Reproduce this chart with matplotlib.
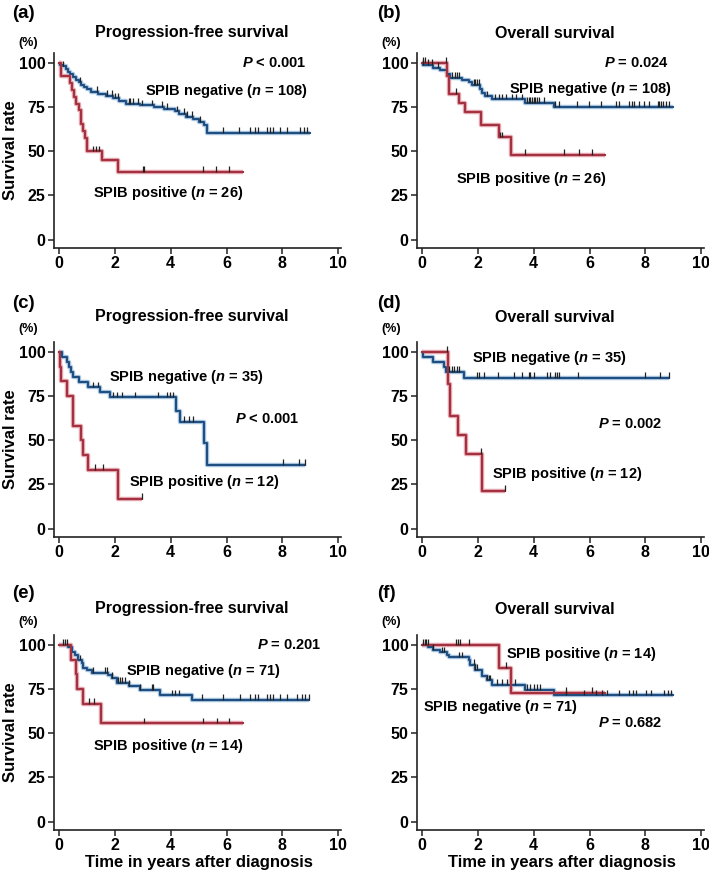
import matplotlib
matplotlib.use('Agg')
import matplotlib.pyplot as plt
import numpy as np

plt.rcParams['font.family'] = 'Liberation Sans'
plt.rcParams['font.weight'] = 'bold'
plt.rcParams['mathtext.fontset'] = 'custom'
plt.rcParams['mathtext.it'] = 'Liberation Sans:italic:bold'
plt.rcParams['mathtext.rm'] = 'Liberation Sans:bold'

# ---- data (time in years, survival in %) ----
# (a) PFS, all patients
a_neg_t = [0, 0.05, 0.15, 0.25, 0.33, 0.4, 0.5, 0.6, 0.7, 0.8, 0.9, 1.0, 1.15, 1.4, 1.7,
           1.95, 2.15, 2.4, 2.9, 3.4, 3.75, 4.15, 4.3, 4.55, 4.8, 5.0, 5.2, 5.3]
a_neg_s = [100, 99, 98, 96.5, 95, 93.5, 92, 90.5, 89, 87.5, 86.5, 85, 83.5, 82.5, 81.5,
           80, 78.5, 77, 76, 75, 74, 72.5, 71, 69.5, 68, 66.5, 65, 60.5]
a_neg_end = 9.0
a_neg_cens = [0.16, 0.75, 1.35, 1.71, 1.89, 2.01, 2.13, 2.49, 2.54, 2.66, 2.84, 2.96, 3.32,
              3.68, 3.86, 4.22, 4.46, 4.58, 4.76, 5.05, 5.87, 6.46, 6.85, 7.02, 7.14, 7.44,
              7.56, 7.66, 7.92, 8.16, 8.64, 8.76, 8.88]
a_pos_t = [0, 0.08, 0.4, 0.48, 0.55, 0.62, 0.7, 0.78, 0.85, 0.92, 1.0, 1.55, 2.12]
a_pos_s = [100, 92.3, 88.5, 84.6, 80.8, 76.9, 73.1, 65.4, 61.5, 57.7, 50.0, 44.9, 38.2]
a_pos_end = 6.6
a_pos_cens = [1.21, 1.33, 1.43, 3.0, 3.06, 5.15, 5.63, 6.1]

# (b) OS, all patients
b_neg_t = [0, 0.05, 0.41, 0.65, 0.89, 1.0, 1.43, 1.67, 1.79, 2.09, 2.15, 2.27, 2.51, 3.7, 4.73]
b_neg_s = [100, 99, 97.3, 96, 93.5, 91.5, 90.5, 89, 87.5, 85.5, 83, 81, 79.3, 77.5, 75.3]
b_neg_end = 9.0
b_neg_cens = [0.05, 0.23, 0.35, 0.59, 1.07, 1.19, 1.25, 1.31, 1.85, 1.91, 1.97, 2.03, 2.33,
              2.63, 2.75, 2.87, 2.99, 3.22, 3.35, 3.58, 3.77, 3.82, 3.88, 3.94, 4.0, 4.06,
              4.12, 4.18, 4.36, 4.78, 4.9, 5.56, 5.98, 6.4, 6.94, 7.06, 7.42, 7.52, 7.6,
              7.78, 7.96, 8.14, 8.44, 8.5, 8.56, 8.62, 8.74, 8.86]
b_pos_t = [0, 0.89, 0.95, 1.31, 1.55, 2.11, 2.75, 3.19]
b_pos_s = [100, 92.3, 82.5, 77.5, 72, 64.8, 57.8, 48.1]
b_pos_end = 6.56
b_pos_cens = [0.05, 0.1, 0.85, 1.2, 2.8, 2.88, 3.7, 5.1, 5.62, 6.1]

# (c) PFS, subgroup
c_neg_t = [0, 0.1, 0.27, 0.35, 0.42, 0.5, 0.72, 1.05, 1.47, 1.83, 4.18, 4.35, 5.2, 5.3]
c_neg_s = [100, 97.1, 94.3, 91.4, 88.6, 85.7, 82.9, 80.0, 77.1, 74.3, 66.4, 60.3, 48.2, 36.2]
c_neg_end = 8.82
c_neg_cens = [1.23, 1.41, 1.95, 2.07, 2.25, 2.72, 3.56, 3.86, 3.98, 4.1, 4.46, 4.64, 4.81,
              8.04, 8.58, 8.82]
c_pos_t = [0, 0.04, 0.07, 0.28, 0.5, 0.8, 0.86, 1.02, 2.13]
c_pos_s = [100, 91.7, 83.3, 75.0, 58.3, 50.0, 41.7, 33.3, 16.7]
c_pos_end = 2.97
c_pos_cens = [1.3, 1.58, 2.97]

# (d) OS, subgroup
d_neg_t = [0, 0.02, 0.41, 0.8, 0.86, 1.49]
d_neg_s = [100, 97.1, 94.3, 91.4, 88.6, 85.2]
d_neg_end = 8.84
d_neg_cens = [0.95, 1.07, 1.16, 1.25, 1.34, 1.97, 2.03, 2.21, 2.72, 3.28, 3.58, 3.82, 3.88,
              4.0, 4.48, 4.6, 4.78, 4.84, 4.9, 5.59, 8.0, 8.54, 8.84]
d_pos_t = [0, 0.93, 1.0, 1.28, 1.57, 2.15]
d_pos_s = [100, 81.8, 63.6, 53.0, 42.4, 21.2]
d_pos_end = 2.96
d_pos_cens = [0.88, 2.1, 2.96]

# (e) PFS, other subgroup
e_neg_t = [0, 0.33, 0.45, 0.57, 0.69, 0.81, 0.87, 0.99, 1.17, 1.77, 1.89, 2.07, 2.49, 2.9,
           3.62, 4.76]
e_neg_s = [100, 98.6, 95.7, 94.2, 91.3, 89.9, 87.0, 85.7, 84.2, 82.8, 81.3, 78.6, 76.7, 74.6,
           71.4, 68.8]
e_neg_end = 8.97
e_neg_cens = [0.16, 0.22, 0.27, 0.75, 1.23, 1.65, 1.71, 1.89, 2.13, 2.19, 2.25, 2.37, 2.49,
              2.9, 3.32, 3.38, 4.04, 4.16, 4.28, 5.11, 5.89, 6.49, 6.85, 7.02, 7.14, 7.44,
              7.56, 7.68, 7.92, 8.16, 8.52, 8.7, 8.82, 8.94]
e_pos_t = [0, 0.42, 0.62, 0.66, 0.85, 1.5]
e_pos_s = [100, 91.7, 83.3, 75.0, 66.7, 55.6]
e_pos_end = 6.6
e_pos_cens = [1.09, 1.27, 3.05, 5.15, 5.65, 6.1]

# (f) OS, other subgroup
f_neg_t = [0, 0.23, 0.41, 0.65, 0.89, 0.95, 1.67, 1.73, 1.91, 2.15, 2.33, 2.51, 3.7, 4.72]
f_neg_s = [100, 98.6, 97.2, 95.8, 94.3, 92.9, 91.4, 88.6, 85.8, 82.6, 80.0, 77.3, 74.4, 71.5]
f_neg_end = 9.0
f_neg_cens = [0.41, 0.71, 0.77, 1.31, 1.43, 1.85, 1.91, 1.97, 2.33, 2.39, 2.45, 2.69, 2.87,
              3.05, 3.34, 3.77, 3.88, 4.0, 4.12, 4.24, 5.14, 5.8, 6.22, 6.46, 6.64, 7.06,
              7.42, 7.54, 7.66, 8.02, 8.2, 8.68, 8.8, 8.92]
f_pos_t = [0, 2.75, 3.2]
f_pos_s = [100, 87.0, 72.9]
f_pos_end = 6.55
f_pos_cens = [0.05, 0.1, 0.15, 0.2, 1.2, 1.3, 1.37, 1.68, 3.0, 5.15, 6.08]

panel_labels = ['(a)', '(b)', '(c)', '(d)', '(e)', '(f)']
titles = ['Progression-free survival', 'Overall survival'] * 3
p_texts = [r'$\mathit{P}$ < 0.001', r'$\mathit{P}$ = 0.024', r'$\mathit{P}$ < 0.001',
           r'$\mathit{P}$ = 0.002', r'$\mathit{P}$ = 0.201', r'$\mathit{P}$ = 0.682']
n_neg = [108, 108, 35, 35, 71, 71]
n_pos = [26, 26, 12, 12, 14, 14]

curves = [
    (a_neg_t, a_neg_s, a_neg_end, a_neg_cens, a_pos_t, a_pos_s, a_pos_end, a_pos_cens),
    (b_neg_t, b_neg_s, b_neg_end, b_neg_cens, b_pos_t, b_pos_s, b_pos_end, b_pos_cens),
    (c_neg_t, c_neg_s, c_neg_end, c_neg_cens, c_pos_t, c_pos_s, c_pos_end, c_pos_cens),
    (d_neg_t, d_neg_s, d_neg_end, d_neg_cens, d_pos_t, d_pos_s, d_pos_end, d_pos_cens),
    (e_neg_t, e_neg_s, e_neg_end, e_neg_cens, e_pos_t, e_pos_s, e_pos_end, e_pos_cens),
    (f_neg_t, f_neg_s, f_neg_end, f_neg_cens, f_pos_t, f_pos_s, f_pos_end, f_pos_cens),
]

# text placement per panel: (x, y, ha) in data units
p_pos = [(8.85, 100, 'right'), (8.85, 100, 'right'), (8.6, 62, 'right'),
         (8.6, 59, 'right'), (9.4, 100, 'right'), (8.6, 56, 'right')]
neg_pos = [(8.9, 84, 'right'), (8.95, 85, 'right'), (4.55, 86, 'center'),
           (4.55, 96.5, 'center'), (5.15, 85.5, 'center'), (2.8, 65, 'center')]
pos_pos = [(3.9, 26.5, 'center'), (3.9, 34.5, 'center'), (5.2, 26.2, 'center'),
           (5.2, 31, 'center'), (3.9, 42.6, 'center'), (5.7, 94.7, 'center')]

BLUE = '#1f4f80'
BLUE_HALO = '#a9c6e2'
RED = '#a3313f'
RED_HALO = '#e6a9b1'

W, H = 709, 874
col_left = [54, 417]
row_top = [53, 342, 635]
aw, ah = 287, 195

fig = plt.figure(figsize=(W / 100, H / 100), dpi=100)


def km(ax, t, s, end, cens, col, halo):
    tt = list(t) + [end]
    ss = list(s) + [s[-1]]
    ax.step(tt, ss, where='post', color=halo, lw=3.2, solid_capstyle='butt', zorder=2)
    ax.step(tt, ss, where='post', color=col, lw=1.5, zorder=3)
    idx = np.searchsorted(t, cens, side='right') - 1
    cs = np.array(s)[idx]
    ax.vlines(cens, cs, cs + 3.2, color='#222222', lw=0.9, zorder=4)


for i in range(6):
    r, c = divmod(i, 2)
    l, top = col_left[c], row_top[r]
    ax = fig.add_axes([l / W, 1 - (top + ah) / H, aw / W, ah / H])
    nt, ns, nend, ncens, pt, ps, pend, pcens = curves[i]
    km(ax, nt, ns, nend, ncens, BLUE, BLUE_HALO)
    km(ax, pt, ps, pend, pcens, RED, RED_HALO)

    ax.set_xlim(-0.18, 10.1)
    ax.set_ylim(-4.8, 105.6)
    ax.set_xticks([0, 2, 4, 6, 8, 10])
    ax.set_yticks([0, 25, 50, 75, 100])
    ax.tick_params(direction='out', length=4, width=1.1, labelsize=11.5, pad=2,
                   color='#222222')
    for lab in ax.get_xticklabels() + ax.get_yticklabels():
        lab.set_fontweight('bold')
    ax.spines['top'].set_visible(False)
    ax.spines['right'].set_visible(False)
    for sp in ['left', 'bottom']:
        ax.spines[sp].set_linewidth(1.2)
        ax.spines[sp].set_color('#222222')

    x, y, ha = p_pos[i]
    ax.text(x, y, p_texts[i], ha=ha, va='center', fontsize=10.5, fontweight='bold')
    x, y, ha = neg_pos[i]
    ax.text(x, y, 'SPIB negative ($\\mathit{n}$ = %d)' % n_neg[i], ha=ha, va='center',
            fontsize=10.5, fontweight='bold')
    x, y, ha = pos_pos[i]
    ax.text(x, y, 'SPIB positive ($\\mathit{n}$ = %d)' % n_pos[i], ha=ha, va='center',
            fontsize=10.5, fontweight='bold')

# figure-level labels (pixel positions from the reference)
lab_x = [12, 377]
lab_y = [14, 304, 594]
title_y = [33, 317, 609]
pct_y = [43, 329, 622]
pct_x = [28, 391]
for i in range(6):
    r, c = divmod(i, 2)
    fig.text(lab_x[c] / W, 1 - lab_y[r] / H, panel_labels[i], ha='left', va='center',
             fontsize=13.5, fontweight='bold')
    fig.text((col_left[c] + aw / 2 - 6) / W, 1 - title_y[r] / H, titles[i], ha='center',
             va='center', fontsize=11.5, fontweight='bold')
    fig.text(pct_x[c] / W, 1 - pct_y[r] / H, '(%)', ha='center', va='center',
             fontsize=9, fontweight='bold')
    if c == 0:
        fig.text(11 / W, 1 - (row_top[r] + ah / 2) / H, 'Survival rate', rotation=90,
                 ha='center', va='center', fontsize=12, fontweight='bold')
    if r == 2:
        fig.text((col_left[c] + 145) / W, 1 - 863 / H, 'Time in years after diagnosis',
                 ha='center', va='center', fontsize=12, fontweight='bold')

fig.savefig('out.png', dpi=100)
